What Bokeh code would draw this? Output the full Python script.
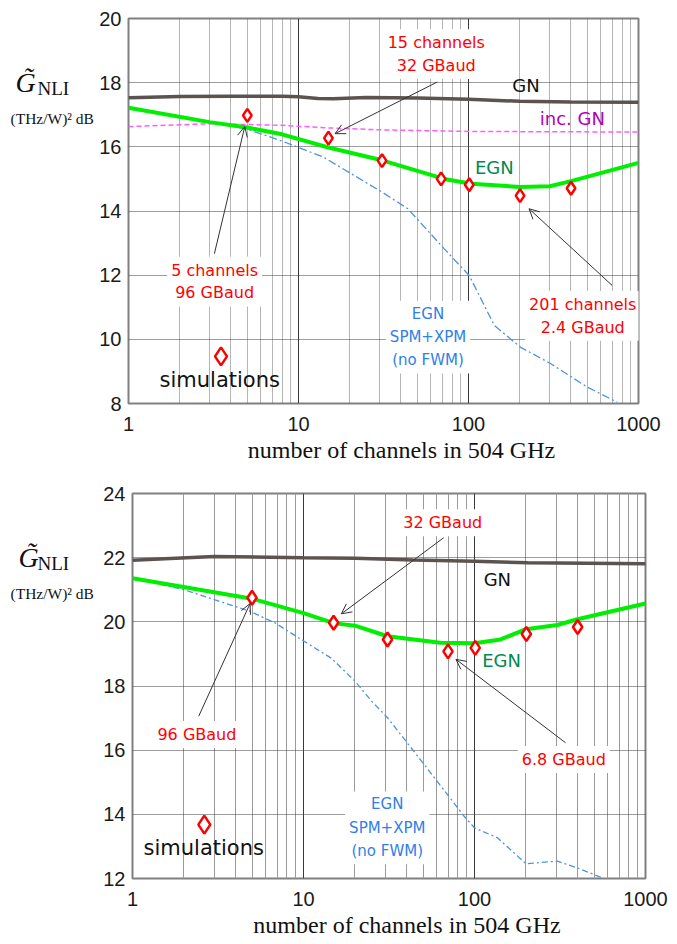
from bokeh.plotting import figure
from bokeh.layouts import column, row
from bokeh.models import (Range1d, FixedTicker, PrintfTickFormatter, Label, Arrow,
                          OpenHead)
from bokeh.embed import file_html
from bokeh.resources import INLINE

# ---------------- data: ticks ----------------
x_ticks = [1, 10, 100, 1000]
x_minor_ticks = [2, 3, 4, 5, 6, 7, 8, 9, 20, 30, 40, 50, 60, 70, 80, 90,
                 200, 300, 400, 500, 600, 700, 800, 900]
y_ticks_top = [8, 10, 12, 14, 16, 18, 20]
y_ticks_bot = [12, 14, 16, 18, 20, 22, 24]

# ---------------- data: top panel ----------------
top_gn_n = [1, 2, 4, 8, 10, 13, 16, 25, 50, 100, 200, 400, 1000]
top_gn_v = [17.53, 17.57, 17.58, 17.58, 17.56, 17.51, 17.50, 17.54, 17.52, 17.48, 17.42, 17.40, 17.39]

top_inc_n = [1, 3, 8, 15, 30, 100, 1000]
top_inc_v = [16.63, 16.72, 16.67, 16.59, 16.53, 16.48, 16.46]

top_egn_n = [1, 3, 5, 8, 15, 31, 72, 104, 201, 301, 401, 1000]
top_egn_v = [17.22, 16.77, 16.60, 16.39, 15.98, 15.58, 15.00, 14.85, 14.75, 14.77, 14.93, 15.50]

top_spm_n = [1, 3, 5, 8, 14, 31, 44, 72, 101, 142, 203, 305, 500, 750]
top_spm_v = [17.22, 16.77, 16.55, 16.18, 15.68, 14.59, 14.07, 12.82, 11.99, 10.43, 9.75, 9.24, 8.51, 8.04]

top_sim_n = [5, 15, 31, 69, 101, 201, 401]
top_sim_v = [16.98, 16.27, 15.57, 15.00, 14.82, 14.48, 14.71]

# ---------------- data: bottom panel ----------------
bot_gn_n = [1, 3, 10, 20, 44, 100, 205, 1000]
bot_gn_v = [21.92, 22.04, 22.00, 21.98, 21.93, 21.89, 21.84, 21.81]

bot_egn_n = [1, 5, 10, 15, 20, 31, 63, 100, 142, 200, 305, 400, 1000]
bot_egn_v = [21.36, 20.72, 20.27, 19.96, 19.88, 19.55, 19.35, 19.33, 19.45, 19.77, 19.90, 20.08, 20.57]

bot_spm_n = [1, 2, 4.8, 6.8, 9.7, 14.6, 20, 25, 31, 49, 87, 100, 136, 200, 305, 400, 570]
bot_spm_v = [21.36, 21.00, 20.34, 19.97, 19.45, 18.86, 18.15, 17.53, 17.01, 15.66, 13.94, 13.58, 13.27, 12.46, 12.54, 12.33, 12.00]

bot_sim_n = [5, 15, 31, 70, 101, 201, 401]
bot_sim_v = [20.75, 19.97, 19.45, 19.08, 19.19, 19.62, 19.84]

X_TITLE = "\u2002\u2002\u2002number of channels in 504 GHz"
LABEL_FONT = "DejaVu Sans"


def base_fig(width, height, left, right, top, bottom, ymin, ymax, yticks, minor_dash, minor_color):
    p = figure(width=width, height=height, x_axis_type="log",
               x_range=Range1d(1, 1000), y_range=Range1d(ymin, ymax),
               output_backend="svg", toolbar_location=None,
               min_border_left=left, min_border_right=right,
               min_border_top=top, min_border_bottom=bottom)
    p.background_fill_color = "white"
    p.border_fill_color = "white"
    p.outline_line_color = "#808080"
    p.outline_line_width = 2
    p.xaxis.ticker = FixedTicker(ticks=x_ticks, minor_ticks=x_minor_ticks)
    p.yaxis.ticker = FixedTicker(ticks=yticks)
    p.xaxis.formatter = PrintfTickFormatter(format="%d")
    for ax in (p.xaxis, p.yaxis):
        ax.axis_line_color = None
        ax.major_tick_out = 0
        ax.major_tick_in = 0
        ax.minor_tick_out = 0
        ax.minor_tick_in = 0
        ax.major_label_text_font = "Liberation Sans"
        ax.major_label_text_font_size = "20px"
        ax.major_label_text_color = "#1a1a1a"
    p.xaxis.major_label_standoff = 13
    p.yaxis.major_label_standoff = 7
    p.xaxis.axis_label = X_TITLE
    p.xaxis.axis_label_text_font = "Liberation Serif"
    p.xaxis.axis_label_text_font_style = "normal"
    p.xaxis.axis_label_text_font_size = "24px"
    p.xaxis.axis_label_text_color = "#111111"
    p.xaxis.axis_label_standoff = 3
    p.xgrid.grid_line_color = "#3a3a3a"
    p.xgrid.grid_line_width = 1
    p.xgrid.minor_grid_line_color = minor_color
    p.xgrid.minor_grid_line_dash = minor_dash
    p.ygrid.grid_line_color = "#3a3a3a"
    p.ygrid.grid_line_dash = "1 1"
    return p


def label_fig(width, height, gx, gy, nx, ny, ux, uy):
    q = figure(width=width, height=height, x_range=Range1d(0, width), y_range=Range1d(0, height),
               output_backend="svg", toolbar_location=None,
               x_axis_location=None, y_axis_location=None, min_border=0)
    q.outline_line_color = None
    q.background_fill_color = "white"
    q.border_fill_color = "white"
    q.grid.visible = False
    q.add_layout(Label(x=gx, y=gy, x_units="screen", y_units="screen", text="G\u0303",
                       text_font="Liberation Serif", text_font_style="italic",
                       text_font_size="28px", text_color="#111111",
                       text_baseline="alphabetic", text_align="left"))
    q.add_layout(Label(x=nx, y=ny, x_units="screen", y_units="screen", text="NLI",
                       text_font="Liberation Serif", text_font_size="19px", text_color="#111111",
                       text_baseline="alphabetic", text_align="left"))
    q.add_layout(Label(x=ux, y=uy, x_units="screen", y_units="screen", text="(THz/W)\u00b2 dB",
                       text_font="Liberation Serif", text_font_size="15.5px", text_color="#111111",
                       text_baseline="alphabetic", text_align="left"))
    return q


def note(p, x, y, text, color, size, lh=1.2, pad=4, bg="white"):
    p.add_layout(Label(x=x, y=y, text=text, text_font=LABEL_FONT, text_font_size=size,
                       text_color=color, text_align="center", text_baseline="middle",
                       text_line_height=lh, background_fill_color=bg, padding=pad))


def arrow(p, x0, y0, x1, y1):
    p.add_layout(Arrow(x_start=x0, y_start=y0, x_end=x1, y_end=y1,
                       line_color="#333333", line_width=1,
                       end=OpenHead(size=10, line_color="#333333", line_width=1)))


# ---------------- top figure ----------------
p1 = base_fig(572, 473, 30, 30, 18, 70, 8, 20, y_ticks_top, "1 1", "#6a6a6a")
p1.line(top_gn_n, top_gn_v, line_color="#5b534f", line_width=3.5)
p1.line(top_inc_n, top_inc_v, line_color="#ff5cff", line_width=1.5, line_dash="5 3")
p1.line(top_spm_n, top_spm_v, line_color="#4d94dc", line_width=1.3, line_dash="8 3 2 3")
p1.line(top_egn_n, top_egn_v, line_color="#00ee00", line_width=4)
p1.scatter(top_sim_n, top_sim_v, marker="diamond", size=13, line_color="#ff0000",
           fill_color="white", line_width=2.5)
p1.scatter([3.5], [9.47], marker="diamond", size=18, line_color="#ff0000",
           fill_color="white", line_width=2.5)

note(p1, 3.21, 11.8, "5 channels\n96 GBaud", "#ff0000", "16px")
note(p1, 64.6, 18.89, "15 channels\n32 GBaud", "#ff0000", "16px")
note(p1, 470, 10.73, "201 channels\n2.4 GBaud", "#ff0000", "16px")
note(p1, 218, 17.91, "GN", "#111111", "18px", pad=1, bg=None)
note(p1, 408, 16.87, "inc. GN", "#b400b4", "18px", pad=1, bg=None)
note(p1, 142, 15.37, "EGN", "#008a4e", "18px", pad=1, bg=None)
note(p1, 57.8, 10.07, "EGN\nSPM+XPM\n(no FWM)", "#2f80e8", "15px", lh=1.3)
note(p1, 3.44, 8.72, "simulations", "#111111", "21px", pad=1, bg=None)
arrow(p1, 3.2, 12.67, 4.83, 16.63)
arrow(p1, 65.5, 18.02, 16.4, 16.41)
arrow(p1, 700, 11.68, 227, 14.07)
l1 = label_fig(96, 473, 15, 321, 37, 315, 10, 285)

# ---------------- bottom figure ----------------
p2 = base_fig(568, 471, 30, 23, 20, 66, 12, 24, y_ticks_bot, "solid", "#9a9a9a")
p2.line(bot_gn_n, bot_gn_v, line_color="#5b534f", line_width=3.5)
p2.line(bot_spm_n, bot_spm_v, line_color="#4d94dc", line_width=1.3, line_dash="6 3 2 3")
p2.line(bot_egn_n, bot_egn_v, line_color="#00ee00", line_width=4)
p2.scatter(bot_sim_n, bot_sim_v, marker="diamond", size=14, line_color="#ff0000",
           fill_color="white", line_width=2.5)
p2.scatter([2.63], [13.68], marker="diamond", size=18, line_color="#ff0000",
           fill_color="white", line_width=2.5)

note(p2, 65.2, 23.09, "32 GBaud", "#ff0000", "16px")
note(p2, 2.38, 16.49, "96 GBaud", "#ff0000", "16px")
note(p2, 333, 15.71, "6.8 GBaud", "#ff0000", "16px")
note(p2, 136, 21.33, "GN", "#111111", "18px", pad=1, bg=None)
note(p2, 144, 18.78, "EGN", "#008a4e", "18px", pad=1, bg=None)
note(p2, 30.9, 13.58, "EGN\nSPM+XPM\n(no FWM)", "#2f80e8", "15px", lh=1.3)
note(p2, 2.61, 12.95, "simulations", "#111111", "21px", pad=1, bg=None)
arrow(p2, 66, 22.62, 16.65, 20.25)
arrow(p2, 2.44, 17.06, 4.87, 20.57)
arrow(p2, 341, 16.23, 77.9, 18.83)
l2 = label_fig(100, 471, 18, 321, 37, 315, 10, 285)

layout = column(row(l1, p1, spacing=0), row(l2, p2, spacing=0), spacing=0)
open("out.html", "w").write(file_html(layout, INLINE))
